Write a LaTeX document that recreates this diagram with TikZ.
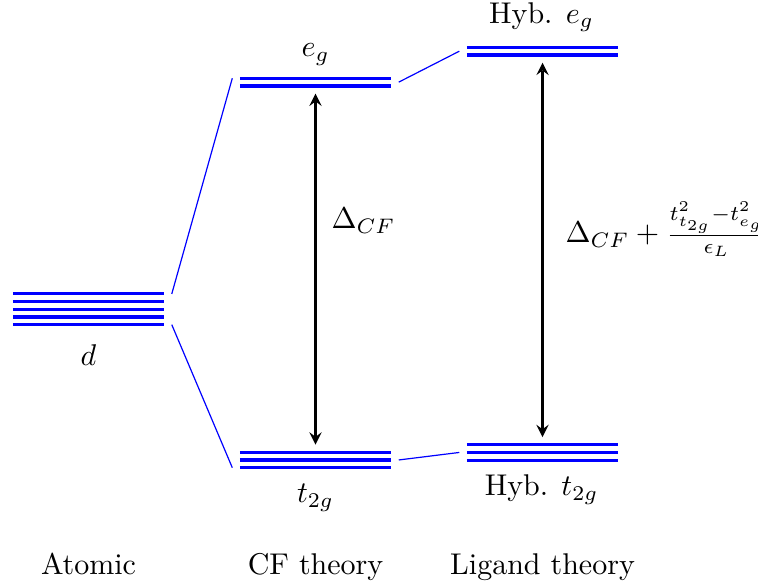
\documentclass[tikz,border=0pt]{standalone}
\usepackage{tikz}
\usetikzlibrary{arrows}

\begin{document}
\begin{tikzpicture}[
	level/.style={
		rectangle,
		minimum width=1.77cm,
		inner sep=0pt,
		outer sep=0pt
	},
	orbital/.style={line width=1.05pt,blue},
	link/.style={blue},
	split/.style={<->,>=stealth,thick,black,shorten >=0.09cm,shorten <=0.09cm},
	label/.style={anchor=base}
]
\useasboundingbox (0,0) rectangle (8.879,6.864);

% Niveles
\node[level,minimum height=0.36cm] (atomd) at (1.037,3.241) {};
\node[level,minimum height=0.09cm] (cfeg) at (3.696,5.902) {};
\node[level,minimum height=0.18cm] (cft2g) at (3.696,1.476) {};
\node[level,minimum height=0.09cm] (hybeg) at (6.355,6.264) {};
\node[level,minimum height=0.18cm] (hybt2g) at (6.355,1.564) {};

\foreach \lv/\n in {atomd/4,cfeg/1,cft2g/2,hybeg/1,hybt2g/2}
	\foreach \k in {0,...,\n}
		\draw[orbital] ([yshift=\k*0.09cm]\lv.south west) -- ([yshift=\k*0.09cm]\lv.south east);

% Etiquetas de los niveles
\node[label] (dlab) at (1.037,2.577) {$d$};
\node[label] (eglab) at (3.696,6.201) {$e_g$};
\node[label] (t2glab) at (3.696,0.972) {$t_{2g}$};
\node[label] (hybeglab) at (6.343,6.592) {Hyb. $e_g$};
\node[label] (hybt2glab) at (6.343,1.054) {Hyb. $t_{2g}$};

% Conexiones
\draw[link] ([xshift=0.09cm]atomd.north east) -- ([xshift=-0.09cm]cfeg.north west);
\draw[link] ([xshift=0.09cm]atomd.south east) -- ([xshift=-0.09cm]cft2g.south west);
\draw[link] ([xshift=0.09cm]cfeg.east) -- ([xshift=-0.09cm]hybeg.west);
\draw[link] ([xshift=0.09cm]cft2g.east) -- ([xshift=-0.09cm]hybt2g.west);

% Desdoblamientos
\draw[split] (cfeg.south) -- (cft2g.north);
\draw[split] (hybeg.south) -- (hybt2g.north);
\node[anchor=base west] (cfgap) at (3.760,4.182) {$\Delta_{CF}$};
\node[anchor=west] (hybgap) at (6.502,4.182) {$\Delta_{CF}+\frac{t_{t_{2g}}^2-t_{e_g}^2}{\epsilon_L}$};

% Titulos
\node[label] (atomic) at (1.037,0.135) {Atomic};
\node[label] (cftheory) at (3.696,0.135) {CF theory};
\node[label] (ligtheory) at (6.355,0.135) {Ligand theory};

\end{tikzpicture}
\end{document}
